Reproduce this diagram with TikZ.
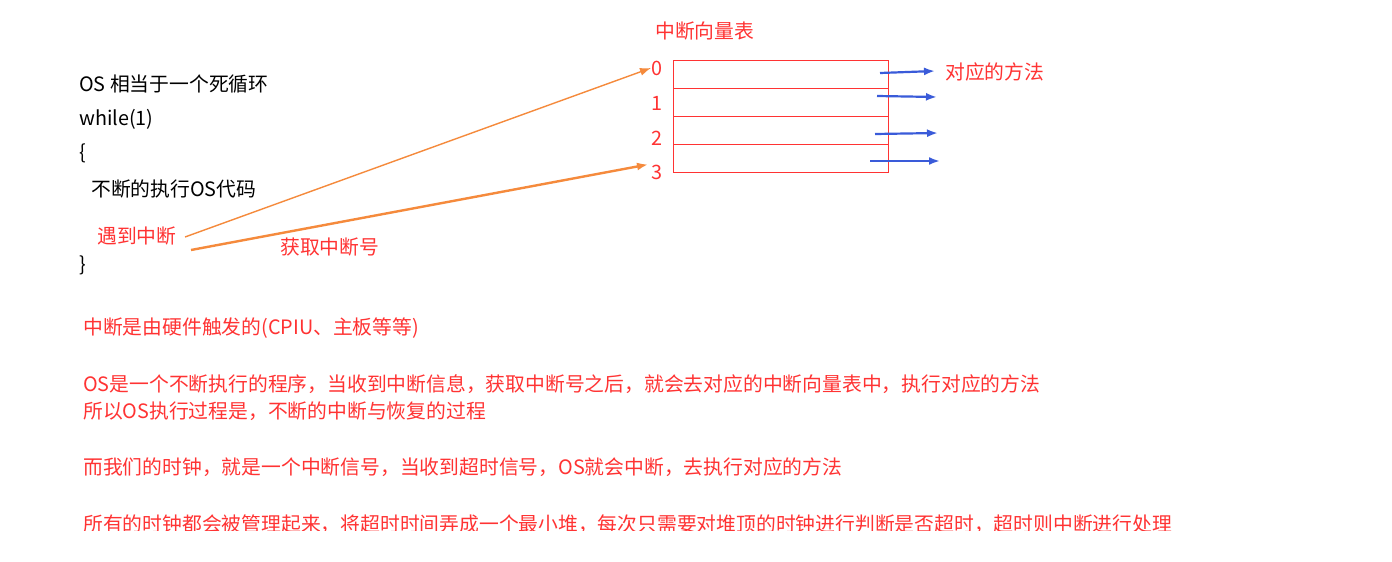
\documentclass[tikz,border=0pt]{standalone}
\usepackage{fontspec}
\setmainfont{Noto Sans CJK SC}
\usetikzlibrary{arrows.meta}
\definecolor{rd}{HTML}{FF3333}
\definecolor{og}{HTML}{F58A3C}
\definecolor{bl}{HTML}{3A5BD9}
\begin{document}
\begin{tikzpicture}[x=1pt,y=-1pt,
  txt/.style={anchor=west,inner sep=0pt,font=\fontsize{19.8}{22}\selectfont},
  rt/.style={txt,text=rd},
  oarr/.style={og,line width=2.4pt,-{Latex[length=11pt,width=8pt]}},
  barr/.style={bl,line width=2.2pt,-{Latex[length=11pt,width=8pt]}},
  cell/.style={draw=rd,line width=0.8pt,minimum width=215pt,minimum height=28pt,inner sep=0pt,anchor=north west}]
\useasboundingbox[fill=white] (0,0) rectangle (1392,562);
\node[rt] (title) at (655,31) {中断向量表};
\node[txt] (l1) at (79,84) {OS 相当于一个死循环};
\node[txt] (l2) at (79,119) {while(1)};
\node[txt] (l3) at (79,153) {\{};
\node[txt] (l4) at (91,189) {不断的执行OS代码};
\node[rt] (int) at (97,236) {遇到中断};
\node[txt] (l6) at (79,265) {\}};
\node[rt] (get) at (280,247) {获取中断号};
\node[cell] (c0) at (673,60) {};
\node[cell] (c1) at (673,88) {};
\node[cell] (c2) at (673,116) {};
\node[cell] (c3) at (673,144) {};
\node[rt] (n0) at (651,68) {0};
\node[rt] (n1) at (651,103) {1};
\node[rt] (n2) at (651,138) {2};
\node[rt] (n3) at (651,172) {3};
\node[rt] (meth) at (945,72) {对应的方法};
\coordinate (s1) at (185,237); \coordinate (s2) at (191,250);
\draw[og,line width=1.4pt,-{Latex[length=11pt,width=8pt]}] (s1) -- (n0.west);
\draw[oarr] (s2) -- ([xshift=-3pt]n3.north west);
\coordinate (b0) at (880,73); \coordinate (e0) at (935,71);
\coordinate (b1) at (877,96); \coordinate (e1) at (937,97);
\coordinate (b2) at (875,134); \coordinate (e2) at (938,133);
\coordinate (b3) at (870,161); \coordinate (e3) at (940,161);
\foreach \i in {0,1,2,3} \draw[barr] (b\i) -- (e\i);
\node[rt] (p1) at (83,328) {中断是由硬件触发的(CPIU、主板等等)};
\node[rt] (p2) at (83,384) {OS是一个不断执行的程序，当收到中断信息，获取中断号之后，就会去对应的中断向量表中，执行对应的方法};
\node[rt] (p3) at (83,411) {所以OS执行过程是，不断的中断与恢复的过程};
\node[rt] (p4) at (83,467) {而我们的时钟，就是一个中断信号，当收到超时信号，OS就会中断，去执行对应的方法};
\begin{scope}
\clip (0,500) rectangle (1392,530);
\node[rt] (p5) at (83,524) {所有的时钟都会被管理起来，将超时时间弄成一个最小堆，每次只需要对堆顶的时钟进行判断是否超时，超时则中断进行处理};
\end{scope}
\end{tikzpicture}
\end{document}
